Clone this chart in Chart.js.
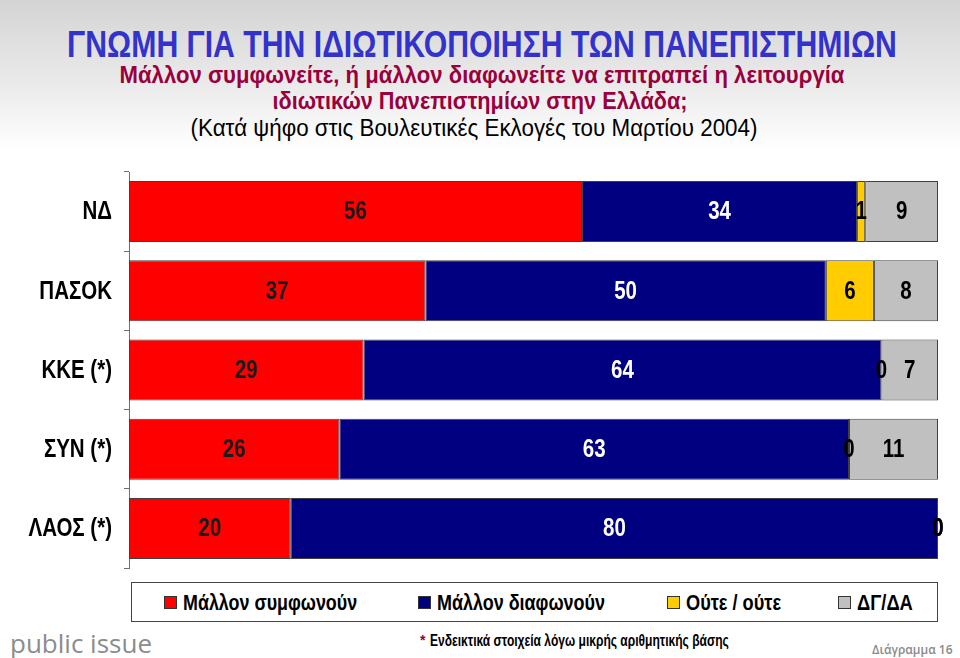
<!DOCTYPE html>
<html>
<head>
<meta charset="utf-8">
<script src="https://cdn.jsdelivr.net/npm/chart.js@4/dist/chart.umd.min.js"></script>
<style>
  body { margin: 0; width: 960px; height: 658px; overflow: hidden; position: relative;
         background: linear-gradient(to bottom, #d4d4d4 0px, #ececec 90px, #ffffff 150px, #ffffff 100%);
         font-family: "Liberation Sans", Arial, sans-serif; }
  .n { position: absolute; white-space: nowrap; line-height: 1; font-weight: bold; }
  #title { color: #3333cc; }
  #sub1, #sub2 { color: #99003d; }
  #sub3 { color: #000; font-weight: normal; }
  #chart { position: absolute; left: 0; top: 160px; }
  #legend { position: absolute; left: 131px; top: 582px; width: 807px; height: 40px; border: 1px solid #444;
            background: #fff; box-sizing: border-box; }
  .box { position: absolute; top: 13px; width: 13px; height: 13px; border: 1px solid #333; box-sizing: border-box; }
  .lt { color: #000; }
  #note { color: #000; }
  #star { position: absolute; left: 420px; top: 632px; font-size: 14px; font-weight: bold; color: #990033; }
  #brand { position: absolute; left: 10px; top: 625px; font-family: "Open Sans", sans-serif; font-size: 26px; color: #8c8c8c; }
  #fig { position: absolute; left: 872px; top: 641px; font-family: "Open Sans", sans-serif; font-size: 12px; font-weight: 600; color: #8a8a8a; }
</style>
</head>
<body>
<div class="n" id="title" data-c="1" data-x="482" data-y="44" data-s="37" data-w="830">ΓΝΩΜΗ ΓΙΑ ΤΗΝ ΙΔΙΩΤΙΚΟΠΟΙΗΣΗ ΤΩΝ ΠΑΝΕΠΙΣΤΗΜΙΩΝ</div>
<div class="n" id="sub1" data-c="1" data-x="482" data-y="75" data-s="23" data-w="725">Μάλλον συμφωνείτε, ή μάλλον διαφωνείτε να επιτραπεί η λειτουργία</div>
<div class="n" id="sub2" data-c="1" data-x="480" data-y="101" data-s="23" data-w="415">ιδιωτικών Πανεπιστημίων στην Ελλάδα;</div>
<div class="n" id="sub3" data-c="1" data-x="474" data-y="128" data-s="23" data-w="567">(Κατά ψήφο στις Βουλευτικές Εκλογές του Μαρτίου 2004)</div>
<canvas id="chart" width="960" height="420"></canvas>
<div id="legend"></div>
<div id="star">*</div>
<div class="n" id="note" data-x="430" data-y="641" data-s="16" data-w="299">Ενδεικτικά στοιχεία λόγω μικρής αριθμητικής βάσης</div>
<div id="brand">public issue</div>
<div id="fig">Διάγραμμα 16</div>
<script>
// Data
const parties = ['ΝΔ', 'ΠΑΣΟΚ', 'ΚΚΕ (*)', 'ΣΥΝ (*)', 'ΛΑΟΣ (*)'];
const agree = [56, 37, 29, 26, 20];
const disagree = [34, 50, 64, 63, 80];
const neither = [1, 6, 0, 0, 0];
const dontKnow = [9, 8, 7, 11, 0];

const seriesNames = ['Μάλλον συμφωνούν', 'Μάλλον διαφωνούν', 'Ούτε / ούτε', 'ΔΓ/ΔΑ'];
const seriesColors = ['#ff0000', '#000080', '#ffcc00', '#c0c0c0'];
const labelColors = ['#1a1a1a', '#ffffff', '#000000', '#000000'];

const raw = [agree, disagree, neither, dontKnow];
// 100% stacked: each row normalized to its total
const totals = parties.map((_, i) => raw.reduce((s, arr) => s + arr[i], 0));

const NARROW = 0.82; // Arial Narrow ~ Arial squeezed to 82%

// Squeeze a text element horizontally to a target width (narrow font emulation)
function fit(el) {
    el.style.fontSize = el.dataset.s + 'px';
    const sx = (+el.dataset.w) / el.offsetWidth;
    el.style.left = el.dataset.x + 'px';
    el.style.top = el.dataset.y + 'px';
    if (el.dataset.c) {
        el.style.transform = 'translate(-50%, -50%) scaleX(' + sx.toFixed(3) + ')';
    } else {
        el.style.transformOrigin = '0 50%';
        el.style.transform = 'translateY(-50%) scaleX(' + sx.toFixed(3) + ')';
    }
}

// Legend
const legendX = [32, 286, 535, 706];
const legendW = [174, 168, 95, 56];
const legend = document.getElementById('legend');
seriesNames.forEach((name, i) => {
    const b = document.createElement('div');
    b.className = 'box';
    b.style.left = legendX[i] + 'px';
    b.style.background = seriesColors[i];
    legend.appendChild(b);
    const t = document.createElement('div');
    t.className = 'n lt';
    t.textContent = name;
    t.dataset.x = legendX[i] + 19;
    t.dataset.y = 20;
    t.dataset.s = 22;
    t.dataset.w = legendW[i];
    legend.appendChild(t);
});
document.querySelectorAll('[data-w]').forEach(fit);

function narrowText(ctx, text, x, y) {
    ctx.save();
    ctx.translate(x, y);
    ctx.scale(NARROW, 1);
    ctx.fillText(text, 0, 0);
    ctx.restore();
}

// Values in the middle of each segment + category labels
const barLabels = {
    id: 'barLabels',
    afterDatasetsDraw(chart) {
        const ctx = chart.ctx;
        ctx.save();
        ctx.font = 'bold 25px "Liberation Sans", Arial, sans-serif';
        ctx.textAlign = 'center';
        ctx.textBaseline = 'middle';
        chart.data.datasets.forEach((ds, di) => {
            chart.getDatasetMeta(di).data.forEach((bar, i) => {
                ctx.fillStyle = labelColors[di];
                narrowText(ctx, String(raw[di][i]), (bar.x + bar.base) / 2, bar.y + 1);
            });
        });
        const y = chart.scales.y;
        ctx.font = 'bold 25px "Liberation Sans", Arial, sans-serif';
        ctx.textAlign = 'right';
        ctx.fillStyle = '#000';
        parties.forEach((p, i) => narrowText(ctx, p, 112, y.getPixelForTick(i) + 1));
        ctx.restore();
    }
};

new Chart(document.getElementById('chart'), {
    type: 'bar',
    data: {
        labels: parties,
        datasets: raw.map((arr, di) => ({
            label: seriesNames[di],
            data: arr.map((v, i) => v / totals[i] * 100),
            backgroundColor: seriesColors[di],
            borderColor: '#404040',
            borderWidth: 1,
            borderSkipped: false,
            barPercentage: 0.77,
            categoryPercentage: 1
        }))
    },
    options: {
        indexAxis: 'y',
        responsive: false,
        animation: false,
        layout: { padding: { top: 12, bottom: 12, right: 22, left: 0 } },
        plugins: { legend: { display: false }, tooltip: { enabled: false } },
        scales: {
            x: { stacked: true, min: 0, max: 100, display: false },
            y: {
                stacked: true,
                grid: { offset: true, drawOnChartArea: false, tickLength: 5, color: '#707070' },
                border: { color: '#707070' },
                ticks: { display: false },
                afterFit: s => { s.width = 129; }
            }
        }
    },
    plugins: [barLabels]
});
</script>
</body>
</html>
